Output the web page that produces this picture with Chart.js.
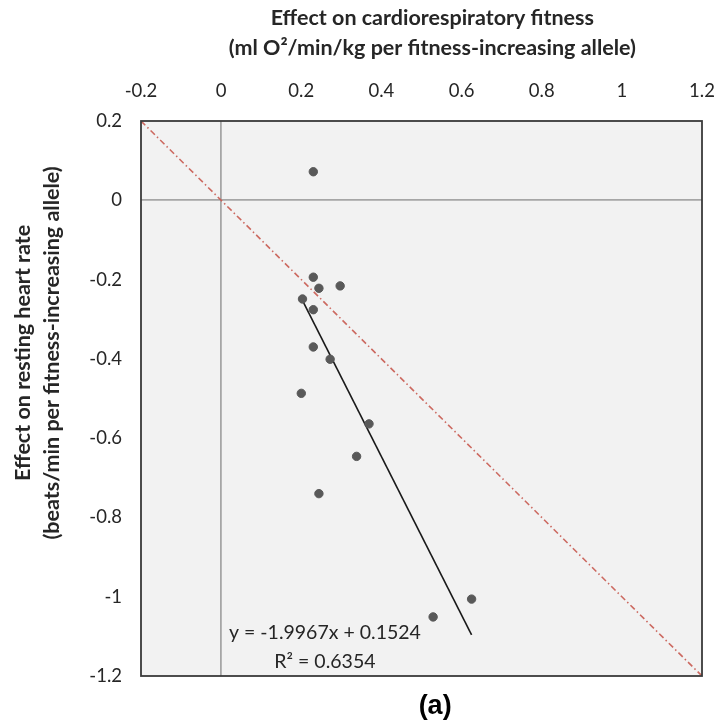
<!DOCTYPE html>
<html>
<head>
<meta charset="utf-8">
<script src="https://cdn.jsdelivr.net/npm/chart.js@4.4.1/dist/chart.umd.min.js"></script>
<style>
  html, body { margin: 0; padding: 0; background: #fff; }
  #wrap { width: 720px; height: 725px; }
</style>
</head>
<body>
<div id="wrap"><canvas id="fitChart" width="720" height="725"></canvas></div>
<script>
// values
const fitnessEffect   = [0.230, 0.230, 0.244, 0.297, 0.203, 0.230, 0.230, 0.272, 0.200, 0.369, 0.338, 0.244, 0.529, 0.625];
const heartRateEffect = [0.072, -0.194, -0.222, -0.216, -0.249, -0.276, -0.370, -0.401, -0.487, -0.564, -0.646, -0.740, -1.051, -1.006];

// fitted trend line (ends as drawn)
const trendX = [0.200, 0.625];
const trendY = [-0.247, -1.096];

// reference line y = -x
const refX = [-0.2, 1.2];
const refY = [0.2, -1.2];

const xTitle = ["Effect on cardiorespiratory fitness", "(ml O\u00B2/min/kg per fitness-increasing allele)"];
const yTitle = ["Effect on resting heart rate", "(beats/min per fitness-increasing allele)"];
const equationText = ["y = -1.9967x + 0.1524", "R\u00B2 = 0.6354"];
const panelLabel = "(a)";

const toPoints = (xs, ys) => xs.map((x, i) => ({x: x, y: ys[i]}));
const fmt = v => String(Number(v.toFixed(1)));

const boxPlugin = {
  id: "box",
  beforeDraw(chart) {
    const a = chart.chartArea, ctx = chart.ctx;
    ctx.save();
    ctx.fillStyle = "#f2f2f2";
    ctx.fillRect(a.left, a.top, a.right - a.left, a.bottom - a.top);
    ctx.restore();
  },
  afterDraw(chart) {
    const a = chart.chartArea, ctx = chart.ctx;
    const xs = chart.scales.x, ys = chart.scales.y;
    ctx.save();
    ctx.strokeStyle = "#3a3a3a";
    ctx.lineWidth = 1.8;
    ctx.strokeRect(a.left, a.top, a.right - a.left, a.bottom - a.top);

    // axis titles (placed like the excel ones, not centred on the plot)
    ctx.fillStyle = "#262626";
    ctx.font = "bold 21.5px Lato";
    ctx.textAlign = "center";
    ctx.textBaseline = "middle";
    const tx = xs.getPixelForValue(0.527);
    ctx.fillText(xTitle[0], tx, 18);
    ctx.fillText(xTitle[1], tx, 48);

    ctx.save();
    ctx.translate(0, ys.getPixelForValue(-0.385));
    ctx.rotate(-Math.PI / 2);
    ctx.fillText(yTitle[0], 0, 23);
    ctx.fillText(yTitle[1], 0, 52);
    ctx.restore();

    // equation label
    ctx.font = "19.5px Lato";
    const ex = xs.getPixelForValue(0.259);
    ctx.fillText(equationText[0], ex, ys.getPixelForValue(-1.092));
    ctx.fillText(equationText[1], ex, ys.getPixelForValue(-1.163));

    // panel letter
    ctx.fillStyle = "#000";
    ctx.font = "bold 27px 'Liberation Sans'";
    ctx.fillText(panelLabel, xs.getPixelForValue(0.534), a.bottom + 31);
    ctx.restore();
  }
};

const noPad = s => { s.paddingLeft = 0; s.paddingRight = 0; s.paddingTop = 0; s.paddingBottom = 0; };

new Chart("fitChart", {
  type: "scatter",
  data: {
    datasets: [
      {
        type: "line",
        data: toPoints(refX, refY),
        borderColor: "rgba(200,90,80,0.9)",
        borderWidth: 1.6,
        borderDash: [6, 3, 1.5, 3],
        pointRadius: 0,
        fill: false,
        order: 3
      },
      {
        type: "line",
        data: toPoints(trendX, trendY),
        borderColor: "#1a1a1a",
        borderWidth: 1.6,
        pointRadius: 0,
        fill: false,
        order: 2
      },
      {
        data: toPoints(fitnessEffect, heartRateEffect),
        backgroundColor: "#595959",
        borderColor: "#595959",
        pointRadius: 4.2,
        order: 1
      }
    ]
  },
  options: {
    responsive: false,
    animation: false,
    events: [],
    layout: { padding: { top: 0, left: 0, right: 18, bottom: 49 } },
    plugins: { legend: { display: false }, tooltip: { enabled: false } },
    scales: {
      x: {
        type: "linear",
        position: "top",
        min: -0.2,
        max: 1.2,
        ticks: { stepSize: 0.2, padding: 19, color: "#262626", font: { family: "Lato", size: 18.5 }, callback: v => fmt(v) },
        grid: { drawTicks: false, lineWidth: 1.8, color: c => (Math.abs(c.tick.value) < 1e-9 ? "#a6a6a6" : "transparent") },
        border: { display: false },
        afterFit: s => { s.height = 121; noPad(s); }
      },
      y: {
        type: "linear",
        position: "left",
        min: -1.2,
        max: 0.2,
        ticks: { stepSize: 0.2, padding: 19, color: "#262626", font: { family: "Lato", size: 18.5 }, callback: v => fmt(v) },
        grid: { drawTicks: false, lineWidth: 1.8, color: c => (Math.abs(c.tick.value) < 1e-9 ? "#a6a6a6" : "transparent") },
        border: { display: false },
        afterFit: s => { s.width = 141; noPad(s); }
      }
    }
  },
  plugins: [boxPlugin]
});
</script>
</body>
</html>
